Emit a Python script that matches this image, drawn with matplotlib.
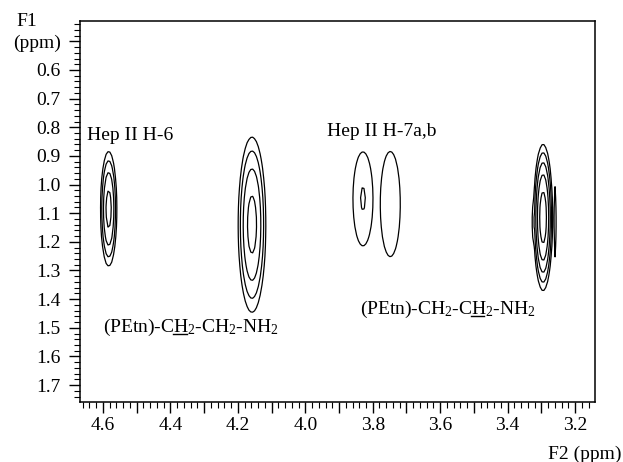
import numpy as np
import matplotlib
matplotlib.use("Agg")
import matplotlib.pyplot as plt
from matplotlib.ticker import MultipleLocator, FuncFormatter
from matplotlib.lines import Line2D
from matplotlib.mathtext import MathTextParser
from matplotlib.font_manager import FontProperties

plt.rcParams['font.family'] = ['Liberation Serif', 'DejaVu Serif']
plt.rcParams['mathtext.fontset'] = 'custom'
plt.rcParams['mathtext.rm'] = 'Liberation Serif'
plt.rcParams['mathtext.it'] = 'Liberation Serif:italic'
plt.rcParams['mathtext.bf'] = 'Liberation Serif:bold'

# ---- data (ppm) ----
peak_f2 = [4.583, 4.158, 3.829, 3.748, 3.295, 3.259, 3.322]
peak_f1 = [1.085, 1.140, 1.050, 1.068, 1.115, 1.130, 1.130]
peak_w2 = [0.0134, 0.0228, 0.0297, 0.0362, 0.0134, 0.0050, 0.0040]
peak_w1 = [0.111, 0.170, 0.164, 0.224, 0.121, 0.171, 0.070]
peak_amp = [5.0, 5.0, 1.65, 1.4, 9.0, 1.3, 2.0]
contour_levels = [1.0, 1.6, 2.6, 4.2, 6.8]

label_texts = ["Hep II H-6", "Hep II H-7a,b"]
label_f2 = [4.648, 3.936]
label_f1 = [0.844, 0.830]

petn_texts = ["(PEtn)-CH$_2$-CH$_2$-NH$_2$", "(PEtn)-CH$_2$-CH$_2$-NH$_2$"]
petn_underlined_H = [0, 1]   # which "H" (0-based) is underlined
petn_f2 = [4.599, 3.839]
petn_f1 = [1.515, 1.452]

xlim = (4.668, 3.141)
ylim = (1.758, 0.428)
fs = 14
DPI = 100

fig = plt.figure(figsize=(6.23, 4.62), dpi=DPI)
ax = fig.add_axes([80/623, 1-401.7/462, (595-80)/623, (401.7-20.7)/462])

# digitised acquisition grid
x = np.arange(3.10, 4.70, 0.0055)
y = np.arange(0.40, 1.80, 0.034)
X, Y = np.meshgrid(x, y)
Z = np.zeros_like(X)
for cx, cy, sx, sy, a in zip(peak_f2, peak_f1, peak_w2, peak_w1, peak_amp):
    Z = np.maximum(Z, a*np.exp(-0.5*((X-cx)/sx)**2 - 0.5*((Y-cy)/sy)**2))
ax.contour(X, Y, Z, levels=contour_levels, colors='black', linewidths=0.9)

ax.set_xlim(*xlim)
ax.set_ylim(*ylim)

ax.xaxis.set_major_locator(MultipleLocator(0.1))
ax.xaxis.set_minor_locator(MultipleLocator(0.02))
def xfmt(v, pos):
    k = int(round(v*10))
    return f"{v:.1f}" if k % 2 == 0 else ""
ax.xaxis.set_major_formatter(FuncFormatter(xfmt))
ax.yaxis.set_major_locator(MultipleLocator(0.1))
ax.yaxis.set_minor_locator(MultipleLocator(0.02))
def yfmt(v, pos):
    return f"{v:.1f}" if v > 0.55 else ""
ax.yaxis.set_major_formatter(FuncFormatter(yfmt))

ax.tick_params(which='major', direction='out', length=8, width=1, labelsize=fs, color='black')
ax.tick_params(which='minor', direction='out', length=4, width=0.8, color='black')
ax.tick_params(axis='y', which='major', pad=6)
ax.tick_params(axis='x', which='major', pad=3)
for s in ax.spines.values():
    s.set_linewidth(1.1)
    s.set_color('black')

for t, lx, ly in zip(label_texts, label_f2, label_f1):
    ax.text(lx, ly, t, fontsize=fs, ha='left', va='baseline')

fig.text(27/623, 1-21/462, "F1", fontsize=fs, ha='center', va='center')
fig.text(61/623, 1-43/462, "(ppm)", fontsize=fs, ha='right', va='center')
fig.text(622/623, 1-454/462, "F2 (ppm)", fontsize=fs, ha='right', va='center')

parser = MathTextParser("path")
for s, hi, lx, ly in zip(petn_texts, petn_underlined_H, petn_f2, petn_f1):
    ax.text(lx, ly, s, fontsize=fs, ha='left', va='baseline')
    fp = FontProperties(family='Liberation Serif', size=fs)
    vp = parser.parse(s, dpi=72, prop=fp)
    glyphs = vp.glyphs
    h_idx = [i for i, g in enumerate(glyphs) if g[2] == ord('H')]
    i = h_idx[hi]
    ox_h = glyphs[i][3]
    ox_next = glyphs[i+1][3] if i+1 < len(glyphs) else ox_h + 0.72*fs
    px, py = ax.transData.transform((lx, ly))
    x0 = px + ox_h*DPI/72.0
    x1 = px + ox_next*DPI/72.0 - 0.5
    yl = py - 2.0
    fig.add_artist(Line2D([x0/fig.bbox.width, x1/fig.bbox.width],
                          [yl/fig.bbox.height]*2, color='black', linewidth=1.0,
                          transform=fig.transFigure))

fig.savefig("out.png", dpi=DPI)
